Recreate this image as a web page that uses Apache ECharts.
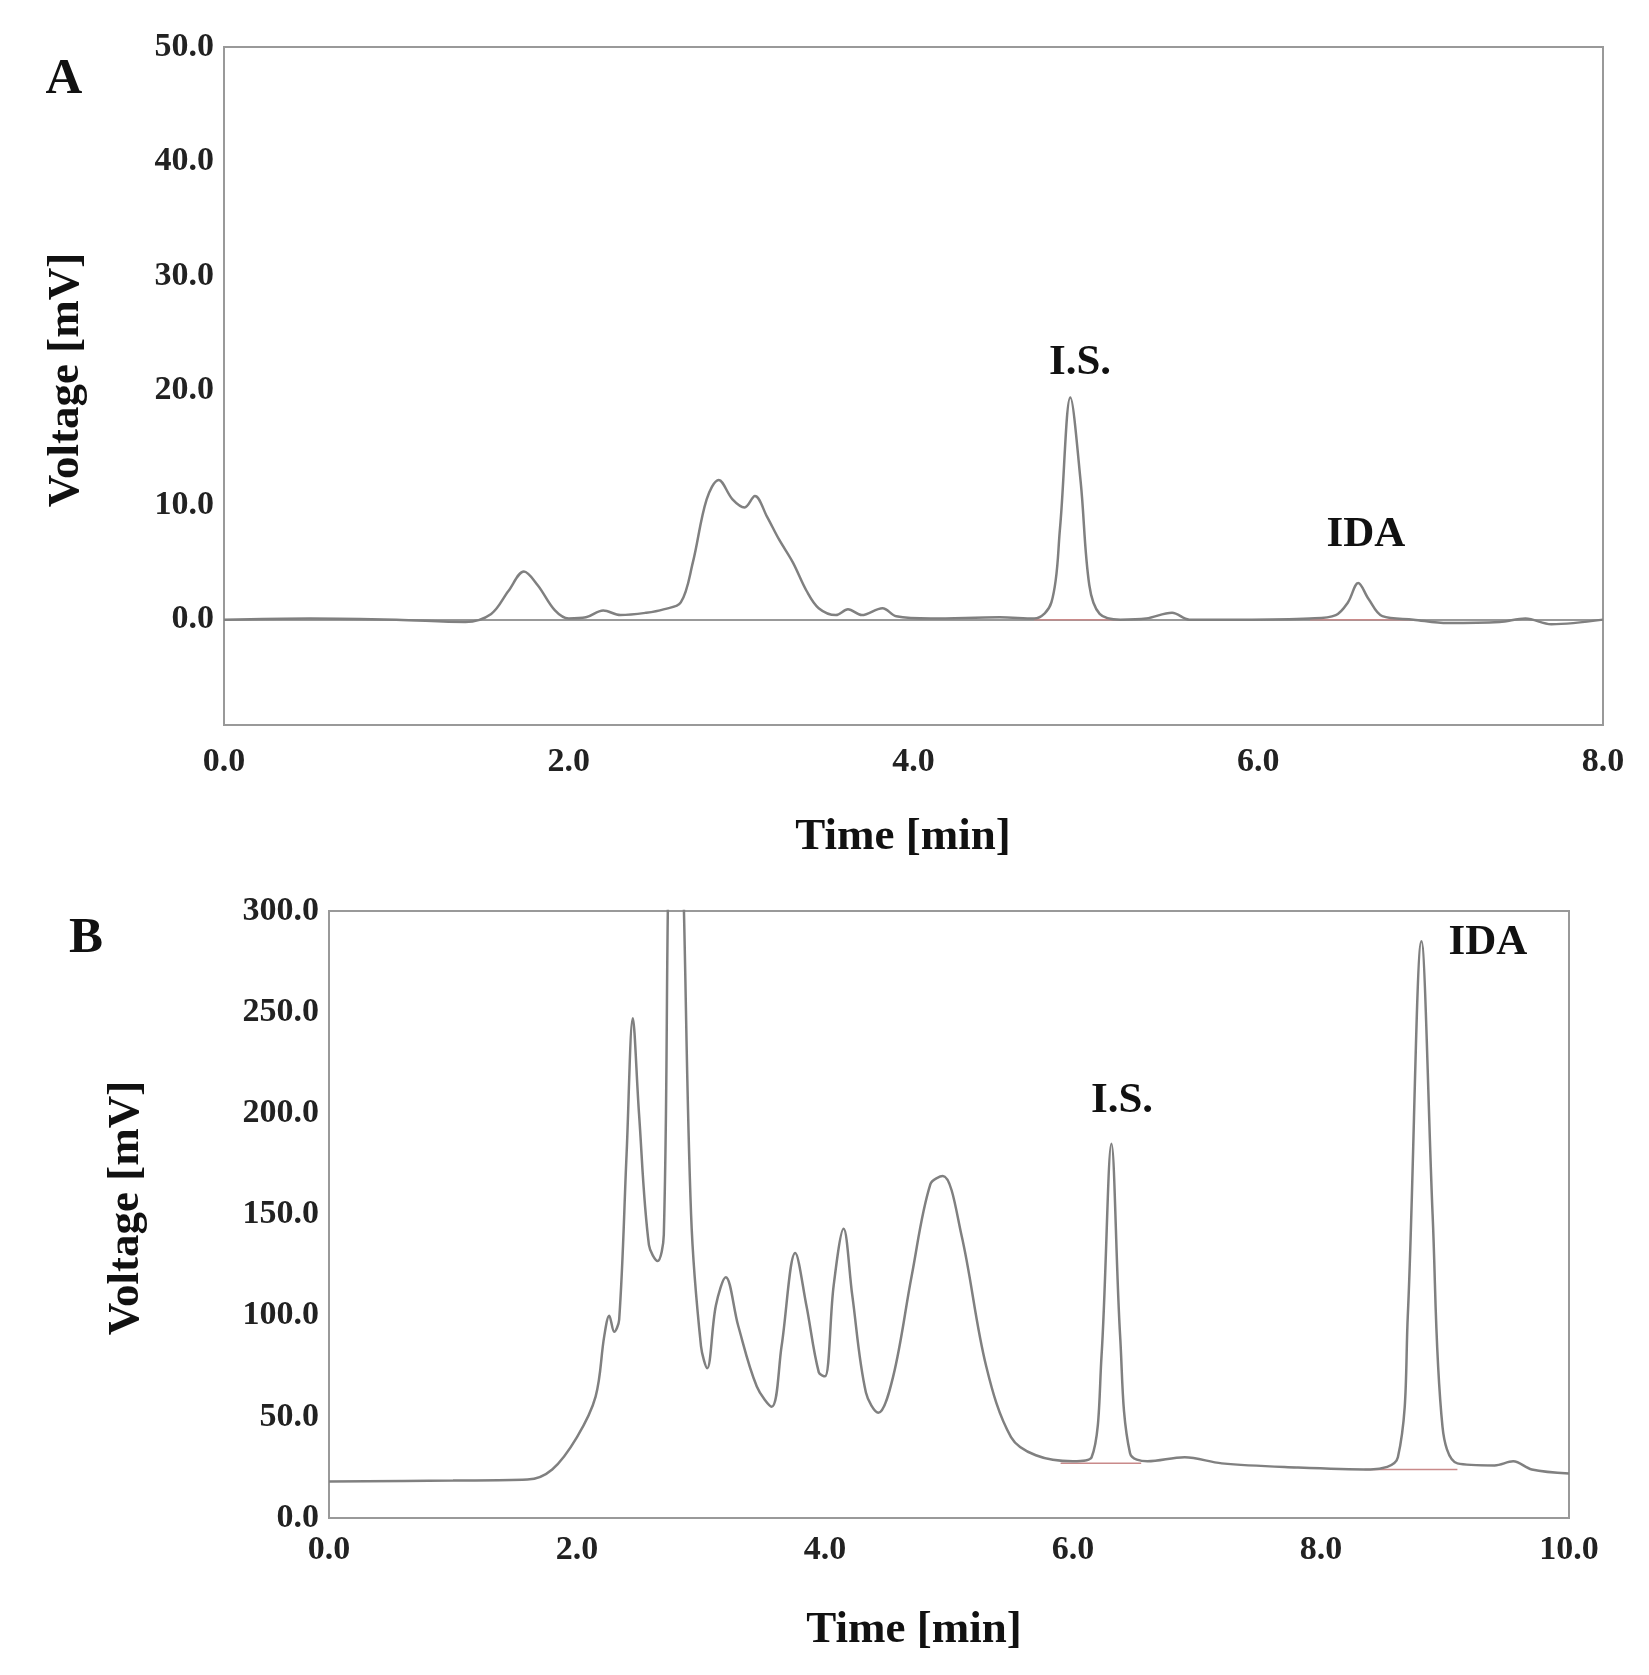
<!DOCTYPE html><html><head><meta charset="utf-8">
<script src="https://cdn.jsdelivr.net/npm/echarts@6/dist/echarts.min.js"></script>
<style>html,body{margin:0;background:#fff}#c{width:1649px;height:1675px}</style></head><body><div id="c"></div>
<script>
const seriesA = [[0,0],[0.5,0.1],[1.0,0],[1.4,-0.2],[1.55,0.5],[1.65,2.5],[1.74,4.2],[1.82,3.0],[1.92,0.8],[2.0,0.1],[2.1,0.2],[2.2,0.8],[2.3,0.4],[2.45,0.6],[2.55,0.9],[2.65,1.5],[2.72,5],[2.8,10.5],[2.87,12.2],[2.95,10.5],[3.02,9.8],[3.08,10.8],[3.15,9],[3.22,7],[3.3,5],[3.38,2.5],[3.45,1],[3.55,0.4],[3.62,0.9],[3.7,0.4],[3.82,1.0],[3.9,0.3],[4.1,0.1],[4.5,0.2],[4.7,0.1],[4.8,1.5],[4.85,8],[4.91,19.4],[4.97,12],[5.02,3],[5.08,0.5],[5.2,0],[5.35,0.1],[5.5,0.6],[5.6,0],[5.9,0],[6.3,0.1],[6.45,0.4],[6.52,1.5],[6.58,3.2],[6.64,1.8],[6.72,0.3],[6.9,0],[7.1,-0.3],[7.4,-0.2],[7.55,0.1],[7.7,-0.4],[8,0]];
const seriesB = [[0,18],[1,18.5],[1.6,19],[1.8,24],[2.0,40],[2.15,60],[2.22,90],[2.26,100],[2.3,92],[2.34,98],[2.4,180],[2.45,247],[2.5,200],[2.58,135],[2.65,127],[2.7,140],[2.74,330],[2.79,420],[2.85,330],[2.92,150],[3.0,85],[3.05,74],[3.12,105],[3.2,119],[3.3,95],[3.45,65],[3.57,55],[3.65,85],[3.76,131],[3.85,105],[3.95,72],[4.0,70],[4.07,115],[4.15,143],[4.22,110],[4.33,62],[4.43,52],[4.55,70],[4.7,120],[4.85,165],[4.95,169],[5.1,140],[5.3,75],[5.5,40],[5.7,31],[6.0,28],[6.15,30],[6.23,80],[6.31,185],[6.38,90],[6.46,32],[6.6,28],[6.9,30],[7.2,27],[7.8,25],[8.4,24],[8.62,30],[8.7,100],[8.81,285],[8.9,150],[8.98,45],[9.1,27],[9.4,26],[9.55,28],[9.7,24],[10,22]];
const baseA1 = [[4.7,0],[5.2,0]], baseA2 = [[6.3,0],[6.9,0]];
const baseB1 = [[5.9,27],[6.55,27]], baseB2 = [[8.35,24],[9.1,24]];
const ticksA_y = [0,10,20,30,40,50], ticksB_y = [0,50,100,150,200,250,300];
const F = '"Liberation Serif","DejaVu Serif",serif';
const lbl = {fontFamily:F,fontWeight:'bold',fontSize:34,color:'#222',formatter:v=>v.toFixed(1)};
const ax = {lineStyle:{color:'#999',width:2}};
const chart = echarts.init(document.getElementById('c'));
const line = (d,i,c,w)=>({type:'line',data:d,xAxisIndex:i,yAxisIndex:i,symbol:'none',smooth:0.35,lineStyle:{color:c,width:w},clip:true});
const txt = (x,y,t,s,rot)=>({type:'text',x,y,rotation:rot||0,style:{text:t,font:`bold ${s}px ${F}`,fill:'#111',align:'center',verticalAlign:'middle'}});
chart.setOption({
 animation:false,
 grid:[{left:224,top:47,width:1379,height:678,show:true,borderColor:'#999',borderWidth:2},
       {left:329,top:911,width:1240,height:607,show:true,borderColor:'#999',borderWidth:2}],
 xAxis:[{type:'value',gridIndex:0,min:0,max:8,interval:2,splitLine:{show:false},axisLine:ax,axisTick:{show:false},axisLabel:{...lbl,margin:20}},
        {type:'value',gridIndex:1,min:0,max:10,interval:2,splitLine:{show:false},axisLine:ax,axisTick:{show:false},axisLabel:{...lbl,margin:15}}],
 yAxis:[{type:'value',gridIndex:0,min:-9.2,max:50,splitLine:{show:false},axisLine:ax,axisTick:{show:false},axisLabel:{...lbl,margin:10,customValues:ticksA_y}},
        {type:'value',gridIndex:1,min:0,max:300,interval:50,splitLine:{show:false},axisLine:ax,axisTick:{show:false},axisLabel:{...lbl,margin:10,customValues:ticksB_y}}],
 series:[line(baseA1,0,'#c98a8a',1.5),line(baseA2,0,'#c98a8a',1.5),line(seriesA,0,'#808080',2.5),
         line(baseB1,1,'#c98a8a',1.5),line(baseB2,1,'#c98a8a',1.5),line(seriesB,1,'#808080',2.5)],
 graphic:[txt(64,80,'A',51),txt(86,939,'B',51),
  txt(1080,363,'I.S.',43),txt(1366,535,'IDA',43),txt(1122,1101,'I.S.',43),txt(1488,943,'IDA',43),
  txt(66,380,'Voltage [mV]',45,Math.PI/2),txt(903,837,'Time [min]',45),
  txt(126,1208,'Voltage [mV]',45,Math.PI/2),txt(914,1630,'Time [min]',45)]
});
</script></body></html>
